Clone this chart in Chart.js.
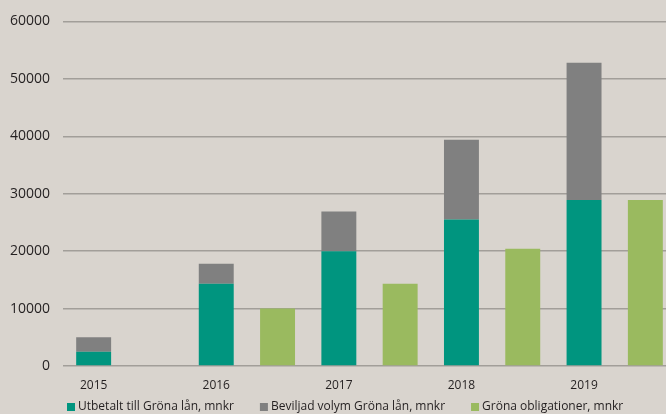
<!DOCTYPE html>
<html>
<head>
<meta charset="utf-8">
<script src="https://cdn.jsdelivr.net/npm/chart.js@4/dist/chart.umd.min.js"></script>
<style>
  html, body { margin: 0; padding: 0; background: #d9d4ce; overflow: hidden; }
  #wrap { position: relative; width: 676px; height: 414px; }
</style>
</head>
<body>
<div id="wrap"><canvas id="c"></canvas></div>
<script>
// ---- data ----
const years = ['2015', '2016', '2017', '2018', '2019'];
const utbetalt = [2500, 14300, 20000, 25500, 28900];       // Utbetalt till Gröna lån, mnkr
const beviljad = [2500, 3500, 6900, 13900, 23900];         // Beviljad volym Gröna lån (ovanpå utbetalt), mnkr
const obligationer = [null, 10000, 14300, 20400, 28900];   // Gröna obligationer, mnkr
const yTicks = [0, 10000, 20000, 30000, 40000, 50000, 60000];
const seriesNames = ['Utbetalt till Gröna lån, mnkr', 'Beviljad volym Gröna lån, mnkr', 'Gröna obligationer, mnkr'];

// each year has two slots: loans bar, then bonds bar
const slotLabels = [];
const slotUtbetalt = [], slotBeviljad = [], slotObl = [];
years.forEach((y, i) => {
  slotLabels.push(y); slotLabels.push('');
  slotUtbetalt.push(utbetalt[i]); slotUtbetalt.push(null);
  slotBeviljad.push(beviljad[i]); slotBeviljad.push(null);
  slotObl.push(null); slotObl.push(obligationer[i]);
});

const TEXT = '#231f20';
const FONT = '"Open Sans"';

// simple bottom legend drawn from dataset labels/colours
const bottomLegend = {
  id: 'bottomLegend',
  afterDraw(chart) {
    const ctx = chart.ctx;
    ctx.save();
    ctx.font = '12px ' + FONT;
    ctx.textBaseline = 'middle';
    ctx.textAlign = 'left';
    const yMid = chart.height - 7;
    let x = chart.chartArea.left + 4;
    chart.data.datasets.forEach(ds => {
      ctx.fillStyle = ds.backgroundColor;
      ctx.fillRect(x, yMid - 4, 8, 8);
      ctx.fillStyle = TEXT;
      ctx.fillText(ds.label, x + 11, yMid);
      x += 11 + ctx.measureText(ds.label).width + 26;
    });
    ctx.restore();
  }
};

new Chart(document.getElementById('c'), {
  type: 'bar',
  data: {
    labels: slotLabels,
    datasets: [
      { label: seriesNames[0], data: slotUtbetalt, backgroundColor: '#00957f' },
      { label: seriesNames[1], data: slotBeviljad, backgroundColor: '#808080' },
      { label: seriesNames[2], data: slotObl, backgroundColor: '#9aba5f' }
    ]
  },
  plugins: [bottomLegend],
  options: {
    responsive: true,
    maintainAspectRatio: false,
    animation: false,
    layout: { padding: { top: 21.3, bottom: 0, left: 0, right: 0 } },
    datasets: { bar: { barPercentage: 0.57, categoryPercentage: 1.0 } },
    plugins: {
      tooltip: { enabled: false },
      legend: { display: false }
    },
    scales: {
      x: {
        stacked: true,
        grid: { display: false },
        border: { display: false },
        ticks: { autoSkip: false, maxRotation: 0, padding: 4, color: TEXT, font: { family: 'Open Sans', size: 12 } },
        afterFit: (s) => { s.height = 48; }
      },
      y: {
        stacked: true,
        min: 0, max: 60000,
        afterBuildTicks: (s) => { s.ticks = yTicks.map(v => ({ value: v })); },
        grid: { color: '#a29e99', lineWidth: 1.5, drawTicks: false },
        border: { display: false },
        ticks: { padding: 13, color: TEXT, font: { family: 'Open Sans', size: 14 }, callback: (v) => String(v) },
        afterFit: (s) => { s.width = 63; }
      }
    }
  }
});
</script>
</body>
</html>
